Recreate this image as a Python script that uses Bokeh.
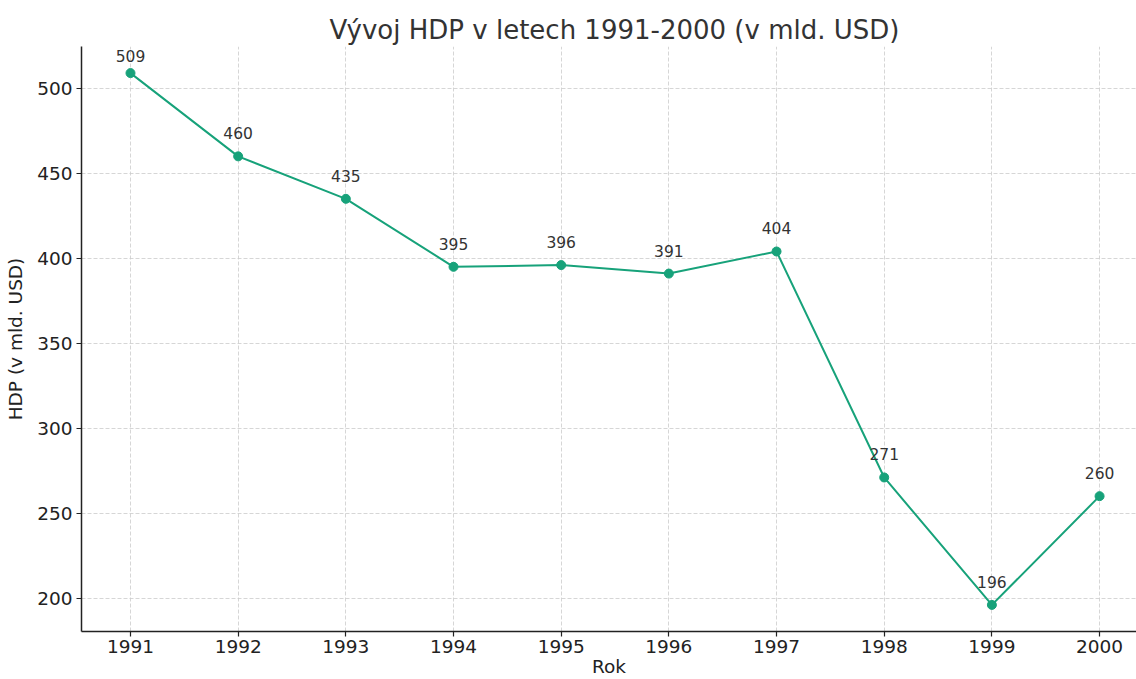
from bokeh.plotting import figure
from bokeh.models import ColumnDataSource, FixedTicker, Range1d, LabelSet
from bokeh.core.properties import value
from bokeh.embed import file_html
from bokeh.resources import INLINE

years = [1991, 1992, 1993, 1994, 1995, 1996, 1997, 1998, 1999, 2000]
gdp = [509, 460, 435, 395, 396, 391, 404, 271, 196, 260]
labels = [str(v) for v in gdp]
y_ticks = [200, 250, 300, 350, 400, 450, 500]

FONT = "DejaVu Sans"
COLOR = "#17a27a"

# label offset: keep the topmost label inside the frame (frame clips annotations)
label_dy = [11 if v == max(gdp) else 17 for v in gdp]

src = ColumnDataSource(dict(x=years, y=gdp, lab=labels, dy=label_dy))

p = figure(width=1136, height=679, output_backend="svg", toolbar_location=None,
           x_range=Range1d(1990.545, 2000.343), y_range=Range1d(180.35, 524.65),
           min_border_left=81, min_border_right=0, min_border_top=46, min_border_bottom=47)

p.title.text = "Vývoj HDP v letech 1991-2000 (v mld. USD)"
p.title.align = "left"
p.title.offset = 248
p.title.text_font = FONT
p.title.text_font_size = "26px"
p.title.text_font_style = "normal"
p.title.text_color = "#333333"
p.title.standoff = 4

p.outline_line_color = None
p.background_fill_color = "white"
p.border_fill_color = "white"

p.line("x", "y", source=src, line_color=COLOR, line_width=2)
p.scatter("x", "y", source=src, size=9, fill_color=COLOR, line_color=COLOR)
lbls = LabelSet(x="x", y="y", text="lab", source=src, text_font=value(FONT),
                text_font_size=value("15.5px"), text_color=value("#333333"),
                text_align=value("center"), text_baseline=value("bottom"),
                y_offset="dy", level="overlay")
p.add_layout(lbls)

for ax in (p.xaxis[0], p.yaxis[0]):
    ax.axis_line_color = "#222222"
    ax.axis_line_width = 1.5
    ax.major_tick_line_color = "#222222"
    ax.major_tick_line_width = 1.2
    ax.major_tick_out = 5
    ax.major_tick_in = 0
    ax.minor_tick_line_color = None
    ax.major_label_text_font = FONT
    ax.major_label_text_font_size = "18.5px"
    ax.major_label_text_color = "#222222"
    ax.axis_label_text_font = FONT
    ax.axis_label_text_font_size = "18.5px"
    ax.axis_label_text_font_style = "normal"
    ax.axis_label_text_color = "#222222"

p.xaxis.ticker = FixedTicker(ticks=years)
p.yaxis.ticker = FixedTicker(ticks=y_ticks)
p.xaxis.axis_label = "Rok"
p.yaxis.axis_label = "HDP (v mld. USD)"
p.xaxis.major_label_standoff = 3
p.xaxis.axis_label_standoff = 0
p.yaxis.major_label_standoff = 4
p.yaxis.axis_label_standoff = 8

p.xgrid.grid_line_color = "#cccccc"
p.ygrid.grid_line_color = "#cccccc"
p.xgrid.grid_line_dash = "4 2"
p.ygrid.grid_line_dash = "4 2"
p.xgrid.grid_line_width = 0.8
p.ygrid.grid_line_width = 0.8

open("out.html", "w").write(file_html(p, INLINE))
